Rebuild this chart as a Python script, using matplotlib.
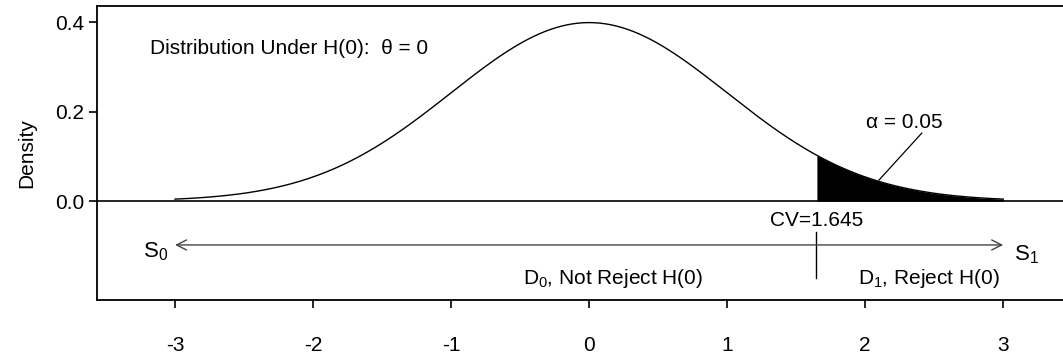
import numpy as np
import matplotlib
matplotlib.use("Agg")
import matplotlib.pyplot as plt

plt.rcParams['font.family'] = ['Liberation Sans', 'DejaVu Sans']
plt.rcParams['mathtext.fontset'] = 'custom'
plt.rcParams['mathtext.rm'] = 'Liberation Sans'
plt.rcParams['mathtext.it'] = 'Liberation Sans'

# data
x_range = [-3, 3]
cv = 1.645
alpha_label = "α = 0.05"
xticks = [-3, -2, -1, 0, 1, 2, 3]
yticks = [0.0, 0.2, 0.4]

x = np.linspace(x_range[0], x_range[1], 601)
dens = np.exp(-x ** 2 / 2) / np.sqrt(2 * np.pi)

fig = plt.figure(figsize=(10.63, 3.62), dpi=100)
ax = fig.add_axes([97 / 1063, 62 / 362, 1 - 97 / 1063 + 0.01, 294 / 362])

ax.plot(x, dens, color='black', lw=1.0)
tail = x >= cv
ax.fill_between(x[tail], 0, dens[tail], color='black', lw=0)
ax.axhline(0, color='black', lw=1.2)

ax.set_xlim(-3.565, 3.51)
ax.set_ylim(-0.221, 0.436)

ax.text(-3.18, 0.34, "Distribution Under H(0):  θ = 0", fontsize=15, va='center')
ax.text(2.28, 0.176, alpha_label, fontsize=15, ha='center', va='center')
ax.plot([2.41, 2.10], [0.152, 0.047], color='black', lw=0.9)

ax.text(cv, -0.043, "CV=1.645", fontsize=15, ha='center', va='center')
ax.plot([cv, cv], [-0.069, -0.172], color='black', lw=1.0)

ax.annotate("", xy=(x_range[0], -0.098), xytext=(x_range[1], -0.098),
            arrowprops=dict(arrowstyle='<->', color='#444444', lw=1.0,
                            shrinkA=0, shrinkB=0, mutation_scale=18))
ax.text(-3.05, -0.112, r"S$_0$", fontsize=16, ha='right', va='center')
ax.text(3.08, -0.12, r"S$_1$", fontsize=16, ha='left', va='center')
ax.text(0.17, -0.172, r"D$_0$, Not Reject H(0)", fontsize=15, ha='center', va='center')
ax.text(2.46, -0.172, r"D$_1$, Reject H(0)", fontsize=15, ha='center', va='center')

ax.set_xticks(xticks)
ax.set_xticklabels([str(t) for t in xticks])
ax.set_yticks(yticks)
ax.set_yticklabels(["0.0", "0.2", "0.4"])
ax.tick_params(axis='x', length=6, pad=20, labelsize=15, width=1.2)
ax.tick_params(axis='y', length=6, pad=3, labelsize=15, width=1.2)
ax.set_ylabel("Density", fontsize=15, labelpad=14)
ax.spines['right'].set_visible(False)
for s in ['left', 'top', 'bottom']:
    ax.spines[s].set_linewidth(1.3)

fig.savefig("out.png", dpi=100)
